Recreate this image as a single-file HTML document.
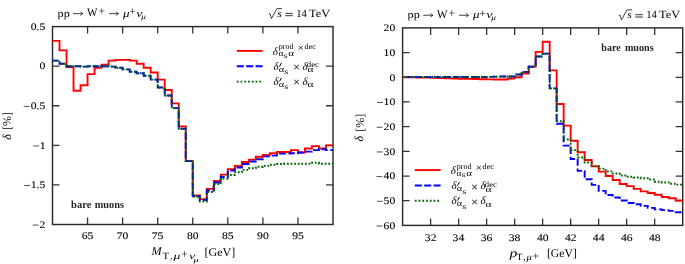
<!DOCTYPE html>
<html><head><meta charset="utf-8"><style>
html,body{margin:0;padding:0;background:#fff;overflow:hidden;}
svg{display:block;will-change:transform;text-rendering:geometricPrecision;font-family:"Liberation Serif",serif;}
text{fill:#000;}
.tk{stroke:#000;stroke-width:0.1px;}
</style></head><body>
<svg width="685" height="264" viewBox="0 0 685 264">
<rect width="685" height="264" fill="#fff"/>
<path d="M87.56,224.50V217.50M87.56,26.60V33.60M122.62,224.50V217.50M122.62,26.60V33.60M157.69,224.50V217.50M157.69,26.60V33.60M192.75,224.50V217.50M192.75,26.60V33.60M227.81,224.50V217.50M227.81,26.60V33.60M262.88,224.50V217.50M262.88,26.60V33.60M297.94,224.50V217.50M297.94,26.60V33.60M52.50,66.18H59.50M333.00,66.18H326.00M52.50,105.76H59.50M333.00,105.76H326.00M52.50,145.34H59.50M333.00,145.34H326.00M52.50,184.92H59.50M333.00,184.92H326.00" stroke="#333" stroke-width="1.3" fill="none"/>
<rect x="52.50" y="26.60" width="280.50" height="197.90" fill="none" stroke="#2a2a2a" stroke-width="1.45"/>
<path d="M52.50,40.85H59.51V50.35H66.53V66.97H73.54V90.72H80.55V85.18H87.56V74.10H94.58V67.76H101.59V64.60H108.60V60.64H115.61V59.85H122.62V59.85H129.64V60.64H136.65V63.81H143.66V67.76H150.68V72.51H157.69V79.64H164.70V89.93H171.71V103.39H178.72V126.34H185.74V161.17H192.75V195.45H199.76V199.17H206.78V188.88H213.79V180.96H220.80V174.63H227.81V169.09H234.82V165.92H241.84V161.96H248.85V159.59H255.86V156.82H262.88V154.84H269.89V153.26H276.90V152.07H283.91V152.07H290.93V150.09H297.94V152.46H304.95V148.51H311.96V146.13H318.98V148.51H325.99V145.34H333.00" stroke="#ff0000" stroke-width="1.90" fill="none"/>
<path d="M52.50,60.64H59.51V63.81H66.53V66.18H73.54V66.18H80.55V66.58H87.56V66.18H94.58V66.18H101.59V66.18H108.60V66.58H115.61V67.76H122.62V69.35H129.64V71.72H136.65V73.30H143.66V75.68H150.68V79.64H157.69V87.55H164.70V95.47H171.71V108.13H178.72V128.72H185.74V161.17H192.75V196.00H199.76V199.96H206.78V190.46H213.79V182.55H220.80V177.00H227.81V170.67H234.82V167.50H241.84V163.94H248.85V161.57H255.86V159.19H262.88V156.42H269.89V155.63H276.90V153.65H283.91V153.65H290.93V153.26H297.94V152.46H304.95V151.67H311.96V150.09H318.98V149.30H325.99V150.09H333.00" stroke="#0000ff" stroke-width="1.90" fill="none" stroke-dasharray="6.8,2.6" stroke-dashoffset="0.61"/>
<path d="M52.50,60.64H59.51V63.81H66.53V66.18H73.54V66.18H80.55V66.58H87.56V66.18H94.58V66.18H101.59V66.18H108.60V66.58H115.61V67.76H122.62V69.35H129.64V71.72H136.65V73.30H143.66V75.68H150.68V79.64H157.69V87.55H164.70V95.47H171.71V108.13H178.72V128.72H185.74V161.17H192.75V196.79H199.76V201.54H206.78V192.04H213.79V184.13H220.80V178.59H227.81V175.03H234.82V172.25H241.84V169.88H248.85V168.30H255.86V166.71H262.88V165.92H269.89V164.73H276.90V163.94H283.91V163.71H290.93V163.71H297.94V163.71H304.95V163.71H311.96V162.76H318.98V163.71H325.99V163.71H333.00" stroke="#006400" stroke-width="1.90" fill="none" stroke-dasharray="1.8,1.8"/>
<text x="30.73" y="29.90" font-size="10.10" textLength="14.52" lengthAdjust="spacingAndGlyphs" class="tk">0.5</text>
<text x="39.43" y="69.48" font-size="10.10" textLength="5.81" lengthAdjust="spacingAndGlyphs" class="tk">0</text>
<text x="30.73" y="109.06" font-size="10.10" textLength="14.52" lengthAdjust="spacingAndGlyphs" class="tk">0.5</text>
<path d="M23.68,106.36H29.58" stroke="#222" stroke-width="0.8"/>
<text x="39.69" y="148.64" font-size="10.10" textLength="5.81" lengthAdjust="spacingAndGlyphs" class="tk">1</text>
<path d="M33.21,145.94H39.11" stroke="#222" stroke-width="0.8"/>
<text x="30.73" y="188.22" font-size="10.10" textLength="14.52" lengthAdjust="spacingAndGlyphs" class="tk">1.5</text>
<path d="M24.26,185.52H30.16" stroke="#222" stroke-width="0.8"/>
<text x="39.63" y="227.80" font-size="10.10" textLength="5.81" lengthAdjust="spacingAndGlyphs" class="tk">2</text>
<path d="M32.64,225.10H38.54" stroke="#222" stroke-width="0.8"/>
<text x="81.73" y="239.40" font-size="10.10" textLength="11.62" lengthAdjust="spacingAndGlyphs" class="tk">65</text>
<text x="116.66" y="239.40" font-size="10.10" textLength="11.62" lengthAdjust="spacingAndGlyphs" class="tk">70</text>
<text x="151.72" y="239.40" font-size="10.10" textLength="11.62" lengthAdjust="spacingAndGlyphs" class="tk">75</text>
<text x="186.94" y="239.40" font-size="10.10" textLength="11.61" lengthAdjust="spacingAndGlyphs" class="tk">80</text>
<text x="222.01" y="239.40" font-size="10.10" textLength="11.61" lengthAdjust="spacingAndGlyphs" class="tk">85</text>
<text x="257.10" y="239.40" font-size="10.10" textLength="11.61" lengthAdjust="spacingAndGlyphs" class="tk">90</text>
<text x="292.17" y="239.40" font-size="10.10" textLength="11.61" lengthAdjust="spacingAndGlyphs" class="tk">95</text>
<text x="57.60" y="16.60" font-size="11.00" textLength="12.17" lengthAdjust="spacingAndGlyphs">pp</text>
<path d="M73.20,13.65H82.40" stroke="#000" stroke-width="0.75"/>
<path d="M80.40,11.55Q81.60,13.25 83.00,13.65Q81.60,14.05 80.40,15.75" stroke="#000" stroke-width="0.7" fill="none"/>
<text x="86.99" y="16.30" font-size="11.50" textLength="10.43" lengthAdjust="spacingAndGlyphs">W</text>
<text x="98.41" y="15.20" font-size="12.00" textLength="6.67" lengthAdjust="spacingAndGlyphs">+</text>
<path d="M109.10,13.65H118.00" stroke="#000" stroke-width="0.75"/>
<path d="M116.00,11.55Q117.20,13.25 118.60,13.65Q117.20,14.05 116.00,15.75" stroke="#000" stroke-width="0.7" fill="none"/>
<text x="122.91" y="16.60" font-size="11.00" font-style="italic" textLength="6.52" lengthAdjust="spacingAndGlyphs">μ</text>
<text x="129.32" y="15.40" font-size="11.50" textLength="6.54" lengthAdjust="spacingAndGlyphs">+</text>
<text x="136.31" y="16.60" font-size="11.00" font-style="italic" textLength="6.29" lengthAdjust="spacingAndGlyphs">ν</text>
<text x="141.21" y="18.80" font-size="7.50" font-style="italic" textLength="4.60" lengthAdjust="spacingAndGlyphs">μ</text>
<path d="M268.80,14.30l1.1,-0.6L271.50,18.50L276.90,8.60H282.00" stroke="#000" stroke-width="0.75" fill="none" stroke-linejoin="miter"/>
<text x="277.26" y="16.60" font-size="10.50" font-style="italic" textLength="4.49" lengthAdjust="spacingAndGlyphs">s</text>
<path d="M285.30,13.40H292.80M285.30,15.70H292.80" stroke="#000" stroke-width="0.8"/>
<text x="296.26" y="16.60" font-size="11.00" textLength="10.71" lengthAdjust="spacingAndGlyphs">14</text>
<text x="308.99" y="16.60" font-size="11.00" textLength="21.05" lengthAdjust="spacingAndGlyphs">TeV</text>
<path d="M236.80,50.90H262.60" stroke="#ff0000" stroke-width="1.90"/>
<path d="M236.80,66.30H262.60" stroke="#0000ff" stroke-width="1.90" stroke-dasharray="7,2.4"/>
<path d="M236.80,81.60H261.60" stroke="#006400" stroke-width="1.90" stroke-dasharray="1.8,1.95"/>
<text x="272.68" y="54.80" font-size="11.00" font-style="italic">δ</text>
<text x="278.77" y="49.40" font-size="8.00" textLength="14.63" lengthAdjust="spacingAndGlyphs">prod</text>
<text x="297.49" y="51.40" font-size="10.00" textLength="6.52" lengthAdjust="spacingAndGlyphs">×</text>
<text x="304.61" y="49.40" font-size="8.00" textLength="11.24" lengthAdjust="spacingAndGlyphs">dec</text>
<text x="278.54" y="56.40" font-size="8.50" textLength="4.97" lengthAdjust="spacingAndGlyphs">α</text>
<text x="283.69" y="58.10" font-size="7.50" textLength="3.87" lengthAdjust="spacingAndGlyphs">s</text>
<text x="288.18" y="56.40" font-size="8.50" textLength="5.77" lengthAdjust="spacingAndGlyphs">α</text>
<text x="273.58" y="70.10" font-size="11.00" font-style="italic">δ</text>
<path d="M281.30,63.10L279.70,66.10" stroke="#000" stroke-width="1.0" stroke-linecap="round"/>
<text x="278.81" y="72.10" font-size="8.50" textLength="5.43" lengthAdjust="spacingAndGlyphs">α</text>
<text x="284.37" y="74.40" font-size="7.50" textLength="4.12" lengthAdjust="spacingAndGlyphs">s</text>
<text x="292.91" y="71.40" font-size="12.00" textLength="7.07" lengthAdjust="spacingAndGlyphs">×</text>
<text x="302.38" y="70.10" font-size="11.00" font-style="italic">δ</text>
<text x="306.89" y="67.30" font-size="8.00" textLength="11.98" lengthAdjust="spacingAndGlyphs">dec</text>
<text x="307.46" y="72.30" font-size="8.50" textLength="5.99" lengthAdjust="spacingAndGlyphs">α</text>
<text x="273.58" y="85.10" font-size="11.00" font-style="italic">δ</text>
<path d="M281.30,78.10L279.70,81.10" stroke="#000" stroke-width="1.0" stroke-linecap="round"/>
<text x="278.81" y="87.10" font-size="8.50" textLength="5.43" lengthAdjust="spacingAndGlyphs">α</text>
<text x="284.37" y="89.40" font-size="7.50" textLength="4.12" lengthAdjust="spacingAndGlyphs">s</text>
<text x="292.91" y="86.40" font-size="12.00" textLength="7.07" lengthAdjust="spacingAndGlyphs">×</text>
<text x="302.38" y="85.10" font-size="11.00" font-style="italic">δ</text>
<text x="307.46" y="87.30" font-size="8.50" textLength="5.99" lengthAdjust="spacingAndGlyphs">α</text>
<text transform="translate(10.50,137.00) rotate(-90)" x="0" y="0" font-size="12" text-anchor="middle" font-style="italic">δ</text>
<text transform="translate(10.80,120.90) rotate(-90)" x="0" y="0" font-size="12" text-anchor="middle">[%]</text>
<text x="151.44" y="255.30" font-size="12.00" font-style="italic" textLength="10.19" lengthAdjust="spacingAndGlyphs">M</text>
<text x="162.41" y="259.20" font-size="9.50" textLength="6.57" lengthAdjust="spacingAndGlyphs">T</text>
<text x="170.04" y="259.20" font-size="9.50">,</text>
<text x="173.61" y="259.20" font-size="9.50" font-style="italic" textLength="6.84" lengthAdjust="spacingAndGlyphs">μ</text>
<text x="181.21" y="257.90" font-size="12.00" textLength="6.67" lengthAdjust="spacingAndGlyphs">+</text>
<text x="189.11" y="259.20" font-size="9.50" font-style="italic" textLength="6.29" lengthAdjust="spacingAndGlyphs">ν</text>
<text x="193.41" y="261.60" font-size="6.50" font-style="italic" textLength="5.13" lengthAdjust="spacingAndGlyphs">μ</text>
<text x="204.40" y="255.80" font-size="11.80" textLength="30.90" lengthAdjust="spacingAndGlyphs">[GeV]</text>
<text x="71.07" y="208.20" font-size="10.80" font-weight="bold" textLength="20.30" lengthAdjust="spacingAndGlyphs" style="fill:#262626">bare</text>
<text x="94.72" y="208.20" font-size="10.80" font-weight="bold" textLength="29.33" lengthAdjust="spacingAndGlyphs" style="fill:#262626">muons</text>
<path d="M430.61,225.40V218.40M430.61,27.90V34.90M458.62,225.40V218.40M458.62,27.90V34.90M486.63,225.40V218.40M486.63,27.90V34.90M514.64,225.40V218.40M514.64,27.90V34.90M542.65,225.40V218.40M542.65,27.90V34.90M570.66,225.40V218.40M570.66,27.90V34.90M598.67,225.40V218.40M598.67,27.90V34.90M626.68,225.40V218.40M626.68,27.90V34.90M654.69,225.40V218.40M654.69,27.90V34.90M402.60,52.59H409.60M682.70,52.59H675.70M402.60,77.28H409.60M682.70,77.28H675.70M402.60,101.96H409.60M682.70,101.96H675.70M402.60,126.65H409.60M682.70,126.65H675.70M402.60,151.34H409.60M682.70,151.34H675.70M402.60,176.03H409.60M682.70,176.03H675.70M402.60,200.71H409.60M682.70,200.71H675.70" stroke="#333" stroke-width="1.3" fill="none"/>
<rect x="402.60" y="27.90" width="280.10" height="197.50" fill="none" stroke="#2a2a2a" stroke-width="1.45"/>
<path d="M402.60,77.28H409.60V77.40H416.61V77.52H423.61V77.65H430.61V77.89H437.61V78.02H444.62V78.26H451.62V78.51H458.62V78.76H465.62V78.88H472.62V79.00H479.63V79.25H486.63V79.37H493.63V79.50H500.64V79.50H507.64V78.51H514.64V77.28H521.64V73.57H528.64V66.66H535.65V51.85H542.65V41.72H549.65V70.36H556.65V103.94H563.66V125.66H570.66V140.72H577.66V152.32H584.66V159.98H591.67V166.40H598.67V171.58H605.67V176.03H612.67V179.97H619.68V183.93H626.68V186.15H633.68V188.86H640.69V191.33H647.69V193.06H654.69V194.79H661.69V197.01H668.70V198.24H675.70V200.47H682.70" stroke="#ff0000" stroke-width="1.90" fill="none"/>
<path d="M402.60,77.03H409.60V77.03H416.61V77.03H423.61V77.03H430.61V77.03H437.61V77.03H444.62V77.03H451.62V77.03H458.62V77.03H465.62V77.03H472.62V77.03H479.63V77.03H486.63V76.90H493.63V76.66H500.64V76.53H507.64V76.53H514.64V74.56H521.64V71.84H528.64V66.78H535.65V56.54H542.65V53.58H549.65V88.38H556.65V123.69H563.66V145.66H570.66V158.99H577.66V170.84H584.66V179.23H591.67V184.91H598.67V190.84H605.67V195.03H612.67V197.50H619.68V200.47H626.68V202.93H633.68V204.29H640.69V205.90H647.69V207.87H654.69V209.35H661.69V210.09H668.70V210.83H675.70V212.32H682.70" stroke="#0000ff" stroke-width="1.90" fill="none" stroke-dasharray="6.8,2.6" stroke-dashoffset="6.24"/>
<path d="M402.60,77.03H409.60V77.03H416.61V77.03H423.61V77.03H430.61V77.03H437.61V77.03H444.62V77.03H451.62V77.03H458.62V77.03H465.62V77.03H472.62V77.03H479.63V77.03H486.63V76.90H493.63V76.66H500.64V76.53H507.64V76.53H514.64V74.56H521.64V71.84H528.64V66.78H535.65V56.54H542.65V53.58H549.65V88.38H556.65V121.22H563.66V139.49H570.66V150.10H577.66V157.51H584.66V162.45H591.67V165.90H598.67V168.62H605.67V171.33H612.67V173.56H619.68V175.53H626.68V176.77H633.68V177.51H640.69V178.25H647.69V179.48H654.69V181.70H661.69V182.44H668.70V183.68H675.70V184.67H682.70" stroke="#006400" stroke-width="1.90" fill="none" stroke-dasharray="1.8,1.8"/>
<text x="383.63" y="31.20" font-size="10.10" textLength="11.61" lengthAdjust="spacingAndGlyphs" class="tk">20</text>
<text x="383.63" y="55.89" font-size="10.10" textLength="11.61" lengthAdjust="spacingAndGlyphs" class="tk">10</text>
<text x="389.43" y="80.58" font-size="10.10" textLength="5.81" lengthAdjust="spacingAndGlyphs" class="tk">0</text>
<text x="383.63" y="105.26" font-size="10.10" textLength="11.61" lengthAdjust="spacingAndGlyphs" class="tk">10</text>
<path d="M377.15,102.56H383.05" stroke="#222" stroke-width="0.8"/>
<text x="383.63" y="129.95" font-size="10.10" textLength="11.61" lengthAdjust="spacingAndGlyphs" class="tk">20</text>
<path d="M376.64,127.25H382.54" stroke="#222" stroke-width="0.8"/>
<text x="383.63" y="154.64" font-size="10.10" textLength="11.62" lengthAdjust="spacingAndGlyphs" class="tk">30</text>
<path d="M376.68,151.94H382.58" stroke="#222" stroke-width="0.8"/>
<text x="383.63" y="179.33" font-size="10.10" textLength="11.61" lengthAdjust="spacingAndGlyphs" class="tk">40</text>
<path d="M376.35,176.62H382.25" stroke="#222" stroke-width="0.8"/>
<text x="383.63" y="204.01" font-size="10.10" textLength="11.61" lengthAdjust="spacingAndGlyphs" class="tk">50</text>
<path d="M376.80,201.31H382.70" stroke="#222" stroke-width="0.8"/>
<text x="383.63" y="228.70" font-size="10.10" textLength="11.62" lengthAdjust="spacingAndGlyphs" class="tk">60</text>
<path d="M376.63,226.00H382.53" stroke="#222" stroke-width="0.8"/>
<text x="424.85" y="240.50" font-size="10.10" textLength="11.61" lengthAdjust="spacingAndGlyphs" class="tk">32</text>
<text x="452.63" y="240.50" font-size="10.10" textLength="11.62" lengthAdjust="spacingAndGlyphs" class="tk">34</text>
<text x="480.72" y="240.50" font-size="10.10" textLength="11.62" lengthAdjust="spacingAndGlyphs" class="tk">36</text>
<text x="508.78" y="240.50" font-size="10.10" textLength="11.61" lengthAdjust="spacingAndGlyphs" class="tk">38</text>
<text x="536.95" y="240.50" font-size="10.10" textLength="11.62" lengthAdjust="spacingAndGlyphs" class="tk">40</text>
<text x="565.06" y="240.50" font-size="10.10" textLength="11.61" lengthAdjust="spacingAndGlyphs" class="tk">42</text>
<text x="592.84" y="240.50" font-size="10.10" textLength="11.62" lengthAdjust="spacingAndGlyphs" class="tk">44</text>
<text x="620.93" y="240.50" font-size="10.10" textLength="11.61" lengthAdjust="spacingAndGlyphs" class="tk">46</text>
<text x="648.99" y="240.50" font-size="10.10" textLength="11.62" lengthAdjust="spacingAndGlyphs" class="tk">48</text>
<text x="407.60" y="18.20" font-size="11.00" textLength="12.17" lengthAdjust="spacingAndGlyphs">pp</text>
<path d="M423.20,15.25H432.40" stroke="#000" stroke-width="0.75"/>
<path d="M430.40,13.15Q431.60,14.85 433.00,15.25Q431.60,15.65 430.40,17.35" stroke="#000" stroke-width="0.7" fill="none"/>
<text x="436.99" y="17.90" font-size="11.50" textLength="10.43" lengthAdjust="spacingAndGlyphs">W</text>
<text x="448.41" y="16.80" font-size="12.00" textLength="6.67" lengthAdjust="spacingAndGlyphs">+</text>
<path d="M459.10,15.25H468.00" stroke="#000" stroke-width="0.75"/>
<path d="M466.00,13.15Q467.20,14.85 468.60,15.25Q467.20,15.65 466.00,17.35" stroke="#000" stroke-width="0.7" fill="none"/>
<text x="472.91" y="18.20" font-size="11.00" font-style="italic" textLength="6.52" lengthAdjust="spacingAndGlyphs">μ</text>
<text x="479.32" y="17.00" font-size="11.50" textLength="6.54" lengthAdjust="spacingAndGlyphs">+</text>
<text x="486.31" y="18.20" font-size="11.00" font-style="italic" textLength="6.29" lengthAdjust="spacingAndGlyphs">ν</text>
<text x="491.21" y="20.40" font-size="7.50" font-style="italic" textLength="4.60" lengthAdjust="spacingAndGlyphs">μ</text>
<path d="M618.80,15.60l1.1,-0.6L621.50,19.80L626.90,9.90H632.00" stroke="#000" stroke-width="0.75" fill="none" stroke-linejoin="miter"/>
<text x="627.26" y="17.90" font-size="10.50" font-style="italic" textLength="4.49" lengthAdjust="spacingAndGlyphs">s</text>
<path d="M635.30,14.70H642.80M635.30,17.00H642.80" stroke="#000" stroke-width="0.8"/>
<text x="646.26" y="17.90" font-size="11.00" textLength="10.71" lengthAdjust="spacingAndGlyphs">14</text>
<text x="658.99" y="17.90" font-size="11.00" textLength="21.05" lengthAdjust="spacingAndGlyphs">TeV</text>
<path d="M414.80,170.10H440.60" stroke="#ff0000" stroke-width="1.90"/>
<path d="M414.80,185.50H440.60" stroke="#0000ff" stroke-width="1.90" stroke-dasharray="7,2.4"/>
<path d="M414.80,200.80H439.60" stroke="#006400" stroke-width="1.90" stroke-dasharray="1.8,1.95"/>
<text x="450.68" y="174.00" font-size="11.00" font-style="italic">δ</text>
<text x="456.77" y="168.60" font-size="8.00" textLength="14.63" lengthAdjust="spacingAndGlyphs">prod</text>
<text x="475.49" y="170.60" font-size="10.00" textLength="6.52" lengthAdjust="spacingAndGlyphs">×</text>
<text x="482.61" y="168.60" font-size="8.00" textLength="11.24" lengthAdjust="spacingAndGlyphs">dec</text>
<text x="456.54" y="175.60" font-size="8.50" textLength="4.97" lengthAdjust="spacingAndGlyphs">α</text>
<text x="461.69" y="177.30" font-size="7.50" textLength="3.87" lengthAdjust="spacingAndGlyphs">s</text>
<text x="466.18" y="175.60" font-size="8.50" textLength="5.77" lengthAdjust="spacingAndGlyphs">α</text>
<text x="451.58" y="189.30" font-size="11.00" font-style="italic">δ</text>
<path d="M459.30,182.30L457.70,185.30" stroke="#000" stroke-width="1.0" stroke-linecap="round"/>
<text x="456.81" y="191.30" font-size="8.50" textLength="5.43" lengthAdjust="spacingAndGlyphs">α</text>
<text x="462.37" y="193.60" font-size="7.50" textLength="4.12" lengthAdjust="spacingAndGlyphs">s</text>
<text x="470.91" y="190.60" font-size="12.00" textLength="7.07" lengthAdjust="spacingAndGlyphs">×</text>
<text x="480.38" y="189.30" font-size="11.00" font-style="italic">δ</text>
<text x="484.89" y="186.50" font-size="8.00" textLength="11.98" lengthAdjust="spacingAndGlyphs">dec</text>
<text x="485.46" y="191.50" font-size="8.50" textLength="5.99" lengthAdjust="spacingAndGlyphs">α</text>
<text x="451.58" y="204.30" font-size="11.00" font-style="italic">δ</text>
<path d="M459.30,197.30L457.70,200.30" stroke="#000" stroke-width="1.0" stroke-linecap="round"/>
<text x="456.81" y="206.30" font-size="8.50" textLength="5.43" lengthAdjust="spacingAndGlyphs">α</text>
<text x="462.37" y="208.60" font-size="7.50" textLength="4.12" lengthAdjust="spacingAndGlyphs">s</text>
<text x="470.91" y="205.60" font-size="12.00" textLength="7.07" lengthAdjust="spacingAndGlyphs">×</text>
<text x="480.38" y="204.30" font-size="11.00" font-style="italic">δ</text>
<text x="485.46" y="206.50" font-size="8.50" textLength="5.99" lengthAdjust="spacingAndGlyphs">α</text>
<text transform="translate(363.20,138.80) rotate(-90)" x="0" y="0" font-size="12" text-anchor="middle" font-style="italic">δ</text>
<text transform="translate(363.50,122.70) rotate(-90)" x="0" y="0" font-size="12" text-anchor="middle">[%]</text>
<text x="509.42" y="256.80" font-size="12.00" font-style="italic" textLength="7.86" lengthAdjust="spacingAndGlyphs">p</text>
<text x="516.62" y="260.40" font-size="9.50" textLength="5.94" lengthAdjust="spacingAndGlyphs">T</text>
<text x="523.14" y="260.40" font-size="9.50">,</text>
<text x="526.61" y="260.40" font-size="9.50" font-style="italic" textLength="5.34" lengthAdjust="spacingAndGlyphs">μ</text>
<text x="532.37" y="260.10" font-size="12.00" textLength="7.15" lengthAdjust="spacingAndGlyphs">+</text>
<text x="546.93" y="257.10" font-size="11.80" textLength="29.94" lengthAdjust="spacingAndGlyphs">[GeV]</text>
<text x="601.37" y="50.60" font-size="10.80" font-weight="bold" textLength="19.28" lengthAdjust="spacingAndGlyphs" style="fill:#262626">bare</text>
<text x="624.93" y="50.60" font-size="10.80" font-weight="bold" textLength="28.72" lengthAdjust="spacingAndGlyphs" style="fill:#262626">muons</text>
</svg>
</body></html>
